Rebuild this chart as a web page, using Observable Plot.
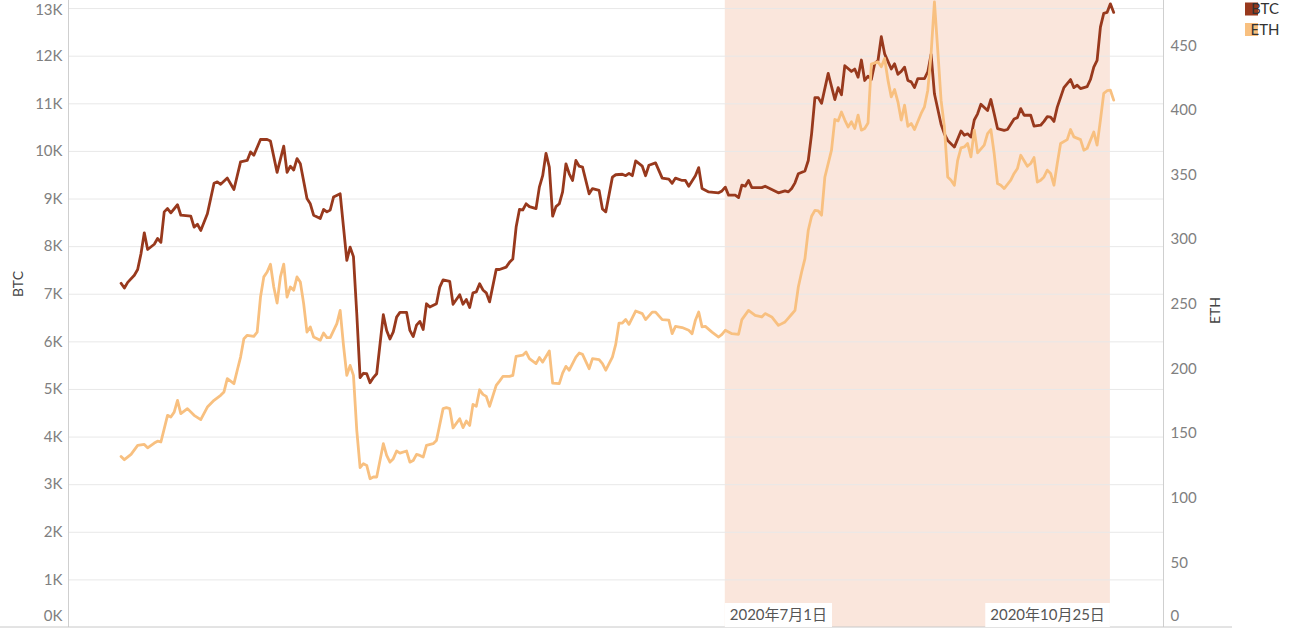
<!DOCTYPE html>
<html><head><meta charset="utf-8">
<script src="https://cdn.jsdelivr.net/npm/d3@7"></script>
<script src="https://cdn.jsdelivr.net/npm/@observablehq/plot@0.6"></script>
<style>body{margin:0;background:#fff;} #chart{width:1314px;height:630px;overflow:hidden;}</style>
</head><body><div id="chart"></div>
<script>
// ---- data (day offset from startDate, price in USD) ----
const startDate = "2020-01-01";
const btcSeries = [[0,7230],[1,7130],[2,7250],[4,7400],[5,7520],[6,7850],[7,8290],[8,7940],[10,8050],[11,8170],[12,8090],[13,8730],[14,8800],[15,8710],[17,8880],[18,8660],[21,8640],[22,8410],[23,8470],[24,8340],[26,8690],[28,9330],[29,9360],[30,9310],[32,9440],[34,9200],[36,9780],[38,9810],[39,9990],[40,9920],[42,10250],[44,10250],[45,10220],[47,9560],[49,10110],[50,9560],[51,9690],[52,9610],[53,9850],[54,9740],[56,9010],[57,8900],[58,8660],[60,8590],[61,8780],[62,8730],[63,8770],[64,9040],[66,9110],[67,8410],[68,7710],[69,7990],[70,7790],[71,6590],[72,5250],[73,5340],[74,5330],[75,5140],[76,5250],[77,5330],[79,6570],[80,6240],[81,6060],[82,6210],[83,6520],[84,6620],[86,6620],[87,6240],[88,6110],[89,6350],[90,6430],[91,6260],[92,6800],[93,6730],[95,6800],[96,7150],[97,7300],[99,7270],[100,6790],[102,6990],[103,6790],[104,6890],[105,6720],[106,7030],[107,7050],[108,7220],[109,7090],[110,7030],[111,6840],[113,7520],[114,7520],[116,7570],[117,7670],[118,7740],[119,8410],[120,8780],[121,8770],[122,8900],[123,8840],[125,8800],[126,9250],[127,9490],[128,9960],[129,9670],[130,8640],[131,8840],[132,8900],[133,9150],[134,9740],[135,9530],[136,9390],[137,9810],[138,9690],[139,9670],[141,9110],[142,9220],[144,9180],[145,8790],[146,8730],[148,9460],[149,9510],[151,9520],[152,9490],[153,9540],[154,9490],[155,9800],[157,9690],[158,9490],[159,9710],[161,9760],[163,9440],[165,9420],[166,9330],[167,9440],[169,9390],[170,9390],[171,9270],[173,9490],[174,9660],[175,9220],[177,9150],[180,9130],[181,9170],[182,9250],[183,9080],[185,9080],[186,9030],[187,9290],[188,9270],[189,9390],[190,9240],[193,9240],[194,9270],[196,9200],[198,9130],[200,9170],[201,9150],[202,9220],[203,9340],[204,9530],[206,9590],[207,9810],[208,10370],[209,11130],[210,11130],[211,11010],[213,11640],[215,11090],[216,11340],[217,11190],[218,11800],[220,11680],[221,11730],[222,11560],[223,11920],[224,11490],[225,11580],[226,11510],[227,11840],[228,11910],[229,12410],[230,12050],[232,11730],[233,11840],[234,11620],[235,11680],[236,11770],[237,11490],[238,11460],[239,11340],[240,11530],[242,11530],[243,11670],[244,12040],[245,11210],[247,10570],[248,10370],[249,10230],[251,10090],[253,10430],[254,10340],[255,10370],[256,10300],[257,10660],[258,10790],[259,10990],[261,10860],[262,11090],[263,10790],[264,10480],[266,10440],[267,10460],[268,10570],[269,10680],[270,10710],[271,10900],[272,10760],[274,10760],[275,10530],[277,10550],[278,10630],[279,10730],[280,10720],[281,10630],[282,10930],[284,11340],[286,11510],[287,11340],[288,11390],[289,11320],[291,11360],[292,11510],[293,11770],[294,11910],[295,12610],[296,12900],[297,12920],[298,13100],[299,12920]];
const ethSeries = [[0,132.3],[1,129.8],[3,133.9],[5,140.9],[7,141.6],[8,139.0],[10,142.7],[11,144.1],[12,143.5],[14,164.1],[15,162.8],[16,166.6],[17,175.7],[18,165.4],[20,169.3],[22,164.1],[24,160.8],[26,170.5],[28,175.7],[30,179.6],[31,182.2],[32,192.5],[34,188.6],[35,199.0],[36,209.2],[37,223.4],[38,226.0],[40,225.2],[41,228.5],[42,255.6],[43,271.2],[44,275.0],[45,281.0],[46,263.4],[47,251.0],[48,271.2],[49,281.0],[50,255.6],[51,263.4],[52,260.8],[53,271.2],[54,267.2],[55,250.5],[56,228.5],[57,232.5],[58,224.7],[60,222.1],[61,227.8],[62,224.2],[63,224.2],[65,235.1],[66,245.3],[67,218.3],[68,195.0],[69,202.8],[70,195.0],[71,152.5],[72,123.6],[73,126.7],[74,125.4],[75,115.1],[76,116.4],[77,116.4],[79,142.2],[80,133.1],[81,127.9],[82,130.6],[83,136.5],[84,134.9],[86,136.5],[87,127.9],[88,129.2],[89,133.9],[90,133.1],[91,131.8],[92,140.9],[94,142.2],[95,144.7],[97,169.3],[98,170.1],[99,169.3],[100,154.4],[102,161.5],[103,154.6],[104,159.7],[105,156.3],[106,172.6],[107,171.1],[108,183.9],[109,180.3],[110,178.8],[111,171.1],[113,187.3],[114,190.6],[115,194.2],[117,194.2],[118,195.0],[119,209.8],[121,210.6],[122,213.1],[123,208.0],[125,204.1],[126,208.8],[127,205.3],[129,213.9],[130,189.1],[132,188.6],[133,196.8],[134,202.0],[135,199.0],[137,209.2],[138,212.3],[139,211.3],[141,200.2],[142,208.0],[144,207.2],[145,204.1],[146,199.0],[148,209.2],[149,219.0],[150,235.5],[151,235.5],[152,238.2],[153,234.5],[155,244.8],[157,242.8],[158,238.2],[160,244.0],[161,244.0],[163,238.2],[165,237.7],[166,227.3],[167,232.9],[169,232.0],[171,229.9],[172,227.3],[173,237.7],[174,244.0],[175,232.5],[176,232.9],[178,228.5],[180,224.7],[181,226.8],[182,229.9],[184,227.3],[186,226.8],[187,238.2],[189,245.3],[191,241.5],[193,240.2],[194,242.8],[196,240.2],[198,233.7],[200,236.4],[201,239.3],[202,242.3],[203,245.3],[204,263.4],[205,275.0],[206,285.4],[207,307.3],[208,318.1],[209,322.7],[210,322.2],[211,318.9],[212,348.5],[214,369.2],[215,393.0],[216,391.9],[217,398.8],[218,392.5],[219,387.2],[220,391.2],[221,386.0],[222,396.3],[223,384.7],[224,386.0],[225,390.3],[226,435.8],[228,437.5],[229,433.7],[230,440.2],[231,423.4],[232,410.4],[233,416.1],[234,406.6],[235,392.5],[236,404.0],[237,387.7],[238,389.9],[239,385.2],[241,397.6],[242,402.8],[243,415.6],[244,444.0],[245,484.0],[246,446.6],[247,407.9],[248,387.2],[249,348.5],[250,346.0],[251,342.1],[252,361.4],[253,371.0],[254,371.7],[255,374.4],[256,364.1],[257,384.7],[258,367.1],[260,373.1],[261,382.1],[262,385.2],[263,366.6],[264,343.4],[265,342.1],[266,339.5],[268,346.0],[269,351.2],[270,355.0],[271,365.3],[273,356.8],[274,358.9],[275,363.5],[276,344.6],[277,346.0],[278,348.5],[279,353.8],[280,351.2],[281,342.1],[282,358.9],[283,374.4],[285,377.4],[286,385.2],[287,379.5],[289,377.4],[290,369.2],[291,370.6],[293,383.3],[294,373.1],[295,392.5],[296,413.1],[297,415.2],[298,415.6],[299,407.9]];
const seriesNames = ["BTC", "ETH"];
const seriesColors = ["#98391d", "#f8c080"];
const btcTicks = [0,1000,2000,3000,4000,5000,6000,7000,8000,9000,10000,11000,12000,13000];
const ethTicks = [0,50,100,150,200,250,300,350,400,450];
const btcMax = 13170;
const ethMax = 485;
const bandDates = ["2020-07-01", "2020-10-25"];
const bandLabels = ["2020年7月1日", "2020年10月25日"];
const xDomain = ["2019-12-16T04:00:00Z", "2020-11-10T00:00:00Z"];

// ---- build tables ----
const k = btcMax / ethMax;
const t0 = Date.parse(startDate + "T00:00:00Z");
const toDate = d => new Date(t0 + d * 864e5);
const btc = btcSeries.map(([d, v]) => ({date: toDate(d), value: v}));
const eth = ethSeries.map(([d, v]) => ({date: toDate(d), value: v}));
const band = [{start: new Date(bandDates[0]), end: new Date(bandDates[1])}];
const FONT = "Lato, 'Noto Sans CJK SC', sans-serif";
const tickStyle = {fill: "#808080", fontSize: 15, fontFamily: FONT};
const btcMid = btcTicks.slice(1, -1), btcTop = btcTicks.slice(-1), btcZero = btcTicks.slice(0, 1);

const plot = Plot.plot({
  width: 1314, height: 630,
  marginLeft: 68, marginRight: 151, marginTop: 0, marginBottom: 3,
  x: {type: "utc", domain: xDomain.map(s => new Date(s)), axis: null},
  y: {domain: [0, btcMax], axis: null},
  style: {background: "#fff", fontFamily: FONT, overflow: "visible"},
  marks: [
    Plot.rect(band, {x1: "start", x2: "end", y1: 0, y2: btcMax, fill: "#fae6dc"}),
    Plot.ruleY(btcTicks.slice(1), {stroke: "#e8e8e8", strokeWidth: 1}),
    Plot.ruleX([new Date(xDomain[0]), new Date(xDomain[1])], {stroke: "#cfcfcf", strokeWidth: 1}),
    Plot.line(btc, {x: "date", y: "value", stroke: seriesColors[0], strokeWidth: 2.8, strokeLinejoin: "round"}),
    Plot.line(eth, {x: "date", y: d => d.value * k, stroke: seriesColors[1], strokeWidth: 2.8, strokeLinejoin: "round"}),
    Plot.text(btcMid, {y: d => d, text: d => d / 1000 + "K", frameAnchor: "left", textAnchor: "end", dx: -6, ...tickStyle}),
    Plot.text(btcTop, {y: d => d, text: d => d / 1000 + "K", frameAnchor: "left", textAnchor: "end", dx: -6, dy: 2, ...tickStyle}),
    Plot.text(btcZero, {y: d => d, text: d => d / 1000 + "K", frameAnchor: "left", textAnchor: "end", dx: -6, dy: -11, ...tickStyle}),
    Plot.text(ethTicks.slice(1), {y: d => d * k, text: d => String(d), frameAnchor: "right", textAnchor: "start", dx: 7, ...tickStyle}),
    Plot.text(ethTicks.slice(0, 1), {y: d => d * k, text: d => String(d), frameAnchor: "right", textAnchor: "start", dx: 7, dy: -11, ...tickStyle}),
    Plot.text([seriesNames[0]], {frameAnchor: "left", dx: -50, dy: -17, rotate: -90, fill: "#444", fontSize: 14, fontFamily: FONT}),
    Plot.text([seriesNames[1]], {frameAnchor: "right", dx: 52, dy: -17, rotate: -90, fill: "#444", fontSize: 14, fontFamily: FONT})
  ]
});

document.getElementById("chart").append(plot);

// ---- decorations: pane border, band labels, legend ----
const svg = d3.select(plot);
const xs = plot.scale("x"), ys = plot.scale("y");
const y0 = ys.apply(0);
svg.append("line").attr("x1", 0).attr("x2", 1232).attr("y1", y0).attr("y2", y0)
  .attr("stroke", "#c8c8c8").attr("stroke-width", 1);

bandLabels.forEach((lab, i) => {
  const bx = xs.apply(new Date(bandDates[i]));
  const g = svg.append("g");
  const t = g.append("text")
    .attr("x", i === 0 ? bx + 5 : bx - 5)
    .attr("y", y0 - 12).attr("dy", "0.35em")
    .attr("text-anchor", i === 0 ? "start" : "end")
    .attr("font-size", 15).attr("font-family", FONT).attr("fill", "#555")
    .text(lab);
  const bb = t.node().getBBox();
  g.insert("rect", "text")
    .attr("x", bb.x - 5).attr("y", y0 - 24)
    .attr("width", bb.width + 10).attr("height", 24)
    .attr("fill", "#fff");
});

const leg = svg.append("g");
seriesNames.forEach((n, i) => {
  const cy = 9 + i * 20.5;
  leg.append("rect").attr("x", 1245).attr("y", cy - 6.5).attr("width", 13).attr("height", 13).attr("fill", seriesColors[i]);
  leg.append("text").attr("x", 1265).attr("y", cy).attr("dy", "0.35em")
    .attr("font-size", 15).attr("font-family", FONT).attr("fill", "#333").text(n);
});
</script>
</body></html>
